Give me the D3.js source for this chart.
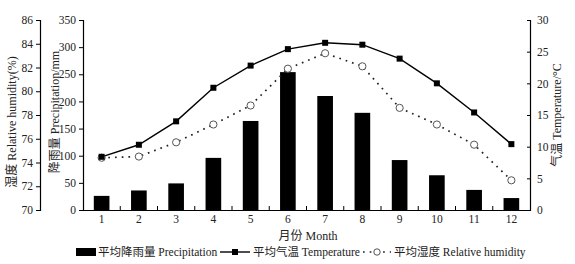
<!DOCTYPE html>
<html>
<head>
<meta charset="utf-8">
<script src="https://cdn.jsdelivr.net/npm/d3@7"></script>
<style>
  body { margin: 0; background: #fff; }
  text { font-family: "Liberation Serif", "Noto Sans CJK SC", serif; }
</style>
</head>
<body>
<div id="chart"></div>
<script>
// data
let months = ["1", "2", "3", "4", "5", "6", "7", "8", "9", "10", "11", "12"];
let precipitation = [26, 36, 49, 96, 164, 254, 210, 179, 92, 64, 37, 22];
let temperature = [8.4, 10.3, 14.0, 19.3, 22.8, 25.4, 26.4, 26.1, 23.9, 20.0, 15.4, 10.4];
let humidity = [74.4, 74.5, 75.7, 77.2, 78.8, 81.9, 83.2, 82.1, 78.6, 77.2, 75.5, 72.5];

let humTicks = [70, 72, 74, 76, 78, 80, 82, 84, 86];
let precTicks = [0, 50, 100, 150, 200, 250, 300, 350];
let tempTicks = [0, 5, 10, 15, 20, 25, 30];

let width = 575, height = 264;
let plotLeft = 83, plotRight = 530, plotTop = 20, plotBottom = 210;

let svg = d3.select("#chart").append("svg")
  .attr("width", width).attr("height", height);

let xScale = d3.scaleBand().domain(months).range([plotLeft, plotRight]).paddingInner(0.58).paddingOuter(0.29);
let xOuter = d3.scaleBand().domain(months).range([plotLeft, plotRight]);
let precScale = d3.scaleLinear().domain([0, 350]).range([plotBottom, plotTop]);
let tempScale = d3.scaleLinear().domain([0, 30]).range([plotBottom, plotTop]);
let humScale = d3.scaleLinear().domain([70, 86]).range([plotBottom, plotTop]);

// bars
svg.append("g").selectAll("rect")
  .data(precipitation)
  .enter()
  .append("rect")
  .attr("x", (d, i) => xScale(months[i]))
  .attr("y", d => precScale(d))
  .attr("width", xScale.bandwidth())
  .attr("height", d => plotBottom - precScale(d))
  .attr("fill", "#000");

// axes
let fs = "11.5px";
let axisL1 = svg.append("g").attr("transform", `translate(40,0)`)
  .call(d3.axisLeft(humScale).tickValues(humTicks).tickSize(4).tickPadding(3));
let axisL2 = svg.append("g").attr("transform", `translate(${plotLeft},0)`)
  .call(d3.axisLeft(precScale).tickValues(precTicks).tickSize(4).tickPadding(3));
let axisR = svg.append("g").attr("transform", `translate(${plotRight},0)`)
  .call(d3.axisRight(tempScale).tickValues(tempTicks).tickSize(-3).tickPadding(7));
let axisB = svg.append("g").attr("transform", `translate(0,${plotBottom})`)
  .call(d3.axisBottom(xOuter).tickSize(0).tickPadding(5));
// band boundary ticks on the x axis
axisB.selectAll("line.sep")
  .data(months.slice(1))
  .enter()
  .append("line")
  .attr("class", "sep")
  .attr("x1", d => xOuter(d)).attr("x2", d => xOuter(d))
  .attr("y1", 0).attr("y2", -4)
  .attr("stroke", "#000");

[axisL1, axisL2, axisR, axisB].forEach(a => {
  a.selectAll("path.domain").attr("stroke", "#000").attr("stroke-width", 1.2);
  a.selectAll("text").attr("font-size", fs).attr("fill", "#222")
    .attr("font-family", '"Liberation Serif", serif');
});

// lines
let tempLine = d3.line().x((d, i) => xOuter(months[i]) + xOuter.bandwidth() / 2).y(d => tempScale(d));
let humLine = d3.line().x((d, i) => xOuter(months[i]) + xOuter.bandwidth() / 2).y(d => humScale(d));

svg.append("path").datum(humidity)
  .attr("d", humLine).attr("fill", "none")
  .attr("stroke", "#222").attr("stroke-width", 1.7)
  .attr("stroke-dasharray", "1.7,5");

svg.append("path").datum(temperature)
  .attr("d", tempLine).attr("fill", "none")
  .attr("stroke", "#000").attr("stroke-width", 1.4);

svg.append("g").selectAll("circle")
  .data(humidity)
  .enter()
  .append("circle")
  .attr("cx", (d, i) => xOuter(months[i]) + xOuter.bandwidth() / 2)
  .attr("cy", d => humScale(d))
  .attr("r", 3.6)
  .attr("fill", "#fff")
  .attr("stroke", "#555")
  .attr("stroke-width", 1);

svg.append("g").selectAll("rect")
  .data(temperature)
  .enter()
  .append("rect")
  .attr("x", (d, i) => xOuter(months[i]) + xOuter.bandwidth() / 2 - 3)
  .attr("y", d => tempScale(d) - 3)
  .attr("width", 6).attr("height", 6)
  .attr("fill", "#000");

// axis titles
svg.append("text")
  .attr("transform", "translate(16,122) rotate(-90)")
  .attr("text-anchor", "middle").attr("font-size", "12px").attr("fill", "#222")
  .text("湿度 Relative humidity(%)");
svg.append("text")
  .attr("transform", "translate(59,112) rotate(-90)")
  .attr("text-anchor", "middle").attr("font-size", "12px").attr("fill", "#222")
  .text("降雨量 Precipitation/mm");
svg.append("text")
  .attr("transform", "translate(561,115) rotate(-90)")
  .attr("text-anchor", "middle").attr("font-size", "12px").attr("fill", "#222")
  .text("气温 Temperature/°C");
svg.append("text")
  .attr("x", 308).attr("y", 240)
  .attr("text-anchor", "middle").attr("font-size", "12px").attr("fill", "#222")
  .text("月份 Month");

// legend
let lg = svg.append("g").attr("font-size", "11.5px").attr("fill", "#222");
lg.append("rect").attr("x", 76).attr("y", 248).attr("width", 20).attr("height", 8).attr("fill", "#000");
lg.append("text").attr("x", 98).attr("y", 256).text("平均降雨量 Precipitation");
lg.append("line").attr("x1", 220).attr("x2", 250).attr("y1", 252).attr("y2", 252)
  .attr("stroke", "#000").attr("stroke-width", 1.4);
lg.append("rect").attr("x", 232).attr("y", 249).attr("width", 6).attr("height", 6).attr("fill", "#000");
lg.append("text").attr("x", 253).attr("y", 256).text("平均气温 Temperature");
lg.append("line").attr("x1", 363).attr("x2", 391).attr("y1", 252).attr("y2", 252)
  .attr("stroke", "#222").attr("stroke-width", 1.7).attr("stroke-dasharray", "1.7,5");
lg.append("circle").attr("cx", 377).attr("cy", 252).attr("r", 3.2)
  .attr("fill", "#fff").attr("stroke", "#555");
lg.append("text").attr("x", 394).attr("y", 256).text("平均湿度 Relative humidity");
</script>
</body>
</html>
